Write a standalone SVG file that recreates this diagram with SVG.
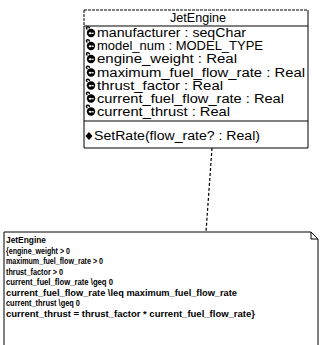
<svg xmlns="http://www.w3.org/2000/svg" width="320" height="345" viewBox="0 0 320 345">
<defs>
<style>
.bg{fill:#fff}
.ln{fill:none;stroke:#000;stroke-width:1}
.dash{fill:none;stroke:#000;stroke-width:1;stroke-dasharray:3 1}
.t{font-family:"Liberation Sans","DejaVu Sans",sans-serif;font-size:12px;fill:#000}
.n{font-family:"Liberation Sans","DejaVu Sans",sans-serif;font-size:9px;font-weight:bold;fill:#000}
.conn{fill:none;stroke:#000;stroke-width:1.2;stroke-dasharray:3 2}
</style>
<g id="attrIcon">
<circle cx="0" cy="0" r="4.2" fill="#000"/>
<path d="M-3.6,-3.6 q-2,-2 0,-2.8 q2,0 2,2" fill="none" stroke="#000" stroke-width="1.4"/>
<ellipse cx="-0.8" cy="0.3" rx="1.5" ry="1" fill="#fff"/>
<ellipse cx="1.9" cy="0.3" rx="1" ry="0.8" fill="#fff"/>
</g>
</defs>
<rect class="bg" x="0" y="0" width="320" height="345"/>

<g id="connectors">
<path class="conn" d="M212,148 L206,232"/>
</g>

<g id="JetEngine">
<rect class="bg" x="84" y="10" width="224" height="138"/>
<path class="dash" d="M84,10 H308"/>
<path class="dash" d="M84,10 V26"/>
<path class="ln" d="M308,10 V148 H84 V26"/>
<path class="ln" d="M84,26 H308"/>
<path class="ln" d="M84,121 H308"/>
<text class="t" x="170" y="22" textLength="56" lengthAdjust="spacingAndGlyphs">JetEngine</text>
<use href="#attrIcon" x="91" y="33"/>
<use href="#attrIcon" x="91" y="46"/>
<use href="#attrIcon" x="91" y="59"/>
<use href="#attrIcon" x="91" y="72.5"/>
<use href="#attrIcon" x="91" y="85.5"/>
<use href="#attrIcon" x="91" y="98.5"/>
<use href="#attrIcon" x="91" y="111.5"/>
<text class="t" x="97" y="37" textLength="149" lengthAdjust="spacingAndGlyphs">manufacturer : seqChar</text>
<text class="t" x="97" y="50" textLength="166" lengthAdjust="spacingAndGlyphs">model_num : MODEL_TYPE</text>
<text class="t" x="97" y="63" textLength="140" lengthAdjust="spacingAndGlyphs">engine_weight : Real</text>
<text class="t" x="97" y="76.5" textLength="208" lengthAdjust="spacingAndGlyphs">maximum_fuel_flow_rate : Real</text>
<text class="t" x="97" y="89.5" textLength="126" lengthAdjust="spacingAndGlyphs">thrust_factor : Real</text>
<text class="t" x="97" y="102.5" textLength="187" lengthAdjust="spacingAndGlyphs">current_fuel_flow_rate : Real</text>
<text class="t" x="97" y="115.5" textLength="133" lengthAdjust="spacingAndGlyphs">current_thrust : Real</text>
<path d="M89,132 L92.5,136 L89,140 L85.5,136 Z" fill="#000"/>
<text class="t" x="94" y="140" textLength="166" lengthAdjust="spacingAndGlyphs">SetRate(flow_rate? : Real)</text>
</g>

<g id="note">
<path class="bg" d="M4,232 H311 L318,239 V350 H4 Z"/>
<path class="ln" d="M4,350 V232 H311 L318,239 V350"/>
<path class="ln" d="M311,232 V239 H318"/>
<text class="n" x="6" y="243" textLength="40" lengthAdjust="spacingAndGlyphs">JetEngine</text>
<text class="n" x="6" y="253.5" textLength="64" lengthAdjust="spacingAndGlyphs">{engine_weight &gt; 0</text>
<text class="n" x="6" y="264" textLength="97" lengthAdjust="spacingAndGlyphs">maximum_fuel_flow_rate &gt; 0</text>
<text class="n" x="6" y="274.5" textLength="57" lengthAdjust="spacingAndGlyphs">thrust_factor &gt; 0</text>
<text class="n" x="6" y="285" textLength="107" lengthAdjust="spacingAndGlyphs">current_fuel_flow_rate \geq 0</text>
<text class="n" x="6" y="295.5" textLength="231" lengthAdjust="spacingAndGlyphs">current_fuel_flow_rate \leq maximum_fuel_flow_rate</text>
<text class="n" x="6" y="306" textLength="74" lengthAdjust="spacingAndGlyphs">current_thrust \geq 0</text>
<text class="n" x="6" y="316.5" textLength="249" lengthAdjust="spacingAndGlyphs">current_thrust = thrust_factor * current_fuel_flow_rate}</text>
</g>
</svg>
